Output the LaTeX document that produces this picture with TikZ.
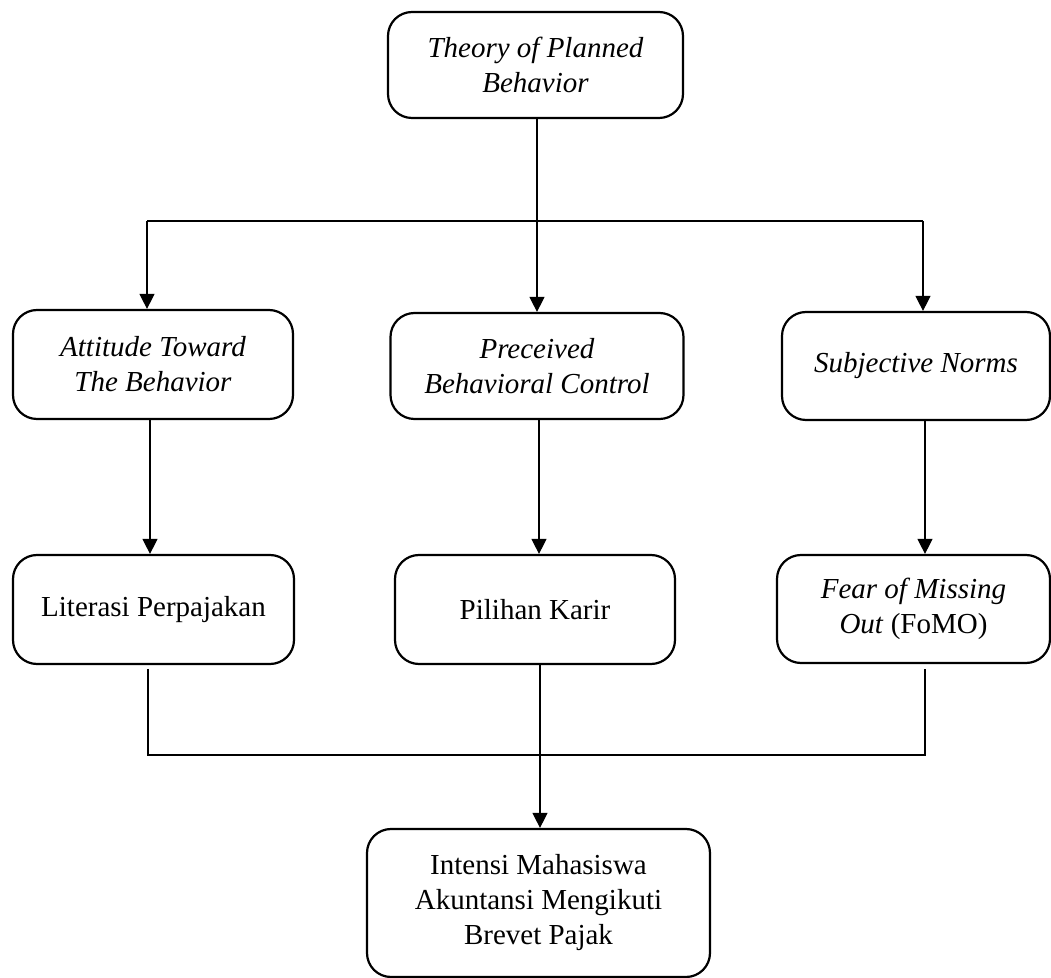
\documentclass[tikz,border=0pt]{standalone}
\usepackage{fontspec}
\setmainfont{Liberation Serif}
\usetikzlibrary{arrows.meta}
\begin{document}
\begin{tikzpicture}[x=0.5pt,y=-0.5pt,
  box/.style={draw, line width=1.1pt, rounded corners=12pt, align=center, inner sep=0pt, font=\fontsize{14.5}{17.5}\selectfont},
  conn/.style={line width=0.6pt},
  arr/.style={conn, -{Triangle[width=7.5pt,length=7.5pt]}}]
\useasboundingbox (0,0) rectangle (1051,978);
\node[box, minimum width=147.5pt, minimum height=53pt] (top) at (535.5,65) {\textit{Theory of Planned}\\\textit{Behavior}};
\node[box, minimum width=140pt, minimum height=54.5pt] (a) at (153,364.5) {\textit{Attitude Toward}\\\textit{The Behavior}};
\node[box, minimum width=146.5pt, minimum height=53pt] (p) at (537,366) {\textit{Preceived}\\\textit{Behavioral Control}};
\node[box, minimum width=134pt, minimum height=54pt] (s) at (916,366) {\textit{Subjective Norms}};
\node[box, minimum width=140.5pt, minimum height=54.5pt] (l) at (153.5,609.5) {Literasi Perpajakan};
\node[box, minimum width=140pt, minimum height=54.5pt] (k) at (535,609.5) {Pilihan Karir};
\node[box, minimum width=136.5pt, minimum height=54pt] (f) at (913.5,609) {\textit{Fear of Missing}\\\textit{Out} (FoMO)};
\node[box, minimum width=171.5pt, minimum height=74pt] (i) at (538.5,903) {Intensi Mahasiswa\\Akuntansi Mengikuti\\Brevet Pajak};
% top fan-out
\coordinate (hl) at (147,221);
\coordinate (hr) at (923,221);
\coordinate (tm) at (537,118);
\draw[arr] (tm) -- (tm |- p.north);
\draw[conn] (hl) -- (hr);
\draw[arr] (hl) -- (hl |- a.north);
\draw[arr] (hr) -- (hr |- s.north);
% row 2 to row 3
\coordinate (c1) at (150,419);
\coordinate (c2) at (539,419);
\coordinate (c3) at (925,420);
\draw[arr] (c1) -- (c1 |- l.north);
\draw[arr] (c2) -- (c2 |- k.north);
\draw[arr] (c3) -- (c3 |- f.north);
% row 3 to bottom
\coordinate (b1) at (148,669);
\coordinate (b3) at (925,669);
\coordinate (bl) at (148,755);
\coordinate (br) at (925,755);
\coordinate (bm) at (540,664);
\draw[conn] (b1) -- (bl) -- (br) -- (b3);
\draw[arr] (bm) -- (bm |- i.north);
\end{tikzpicture}
\end{document}
